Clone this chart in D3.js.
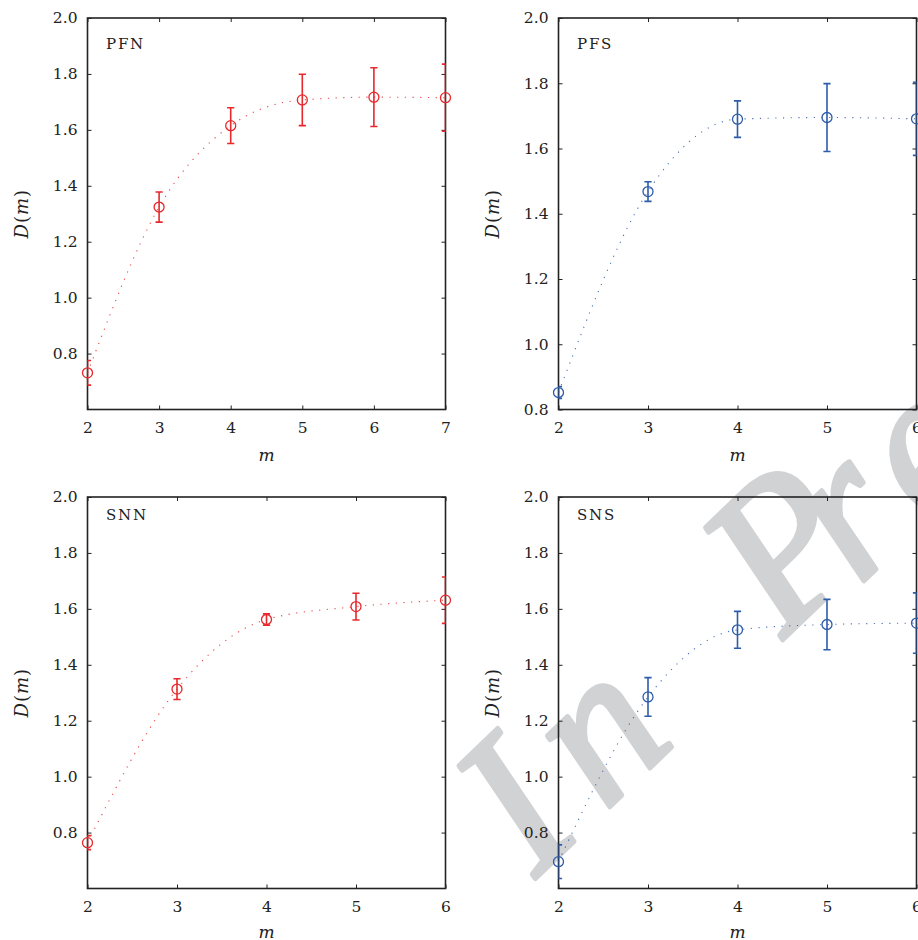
<!DOCTYPE html>
<html>
<head>
<meta charset="utf-8">
<script src="https://cdn.jsdelivr.net/npm/d3@7"></script>
<style>
  html, body { margin: 0; padding: 0; background: #fff; }
  svg { display: block; }
</style>
</head>
<body>
<svg id="fig" width="918" height="940"></svg>
<script>
// Embedding dimension m for each panel
const mPFN = [2, 3, 4, 5, 6, 7];
const mPFS = [2, 3, 4, 5, 6];
const mSNN = [2, 3, 4, 5, 6];
const mSNS = [2, 3, 4, 5, 6];

// Correlation dimension D(m) and its standard deviation
const dPFN   = [0.731, 1.324, 1.615, 1.707, 1.717, 1.715];
const errPFN = [0.044, 0.054, 0.064, 0.092, 0.105, 0.120];

const dPFS   = [0.852, 1.468, 1.690, 1.695, 1.691];
const errPFS = [0.018, 0.030, 0.056, 0.104, 0.112];

const dSNN   = [0.764, 1.313, 1.562, 1.608, 1.631];
const errSNN = [0.025, 0.037, 0.020, 0.048, 0.083];

const dSNS   = [0.696, 1.285, 1.525, 1.544, 1.549];
const errSNS = [0.060, 0.069, 0.066, 0.090, 0.108];

const panelNames = ["PFN", "PFS", "SNN", "SNS"];
const yTickValues = [0.8, 1.0, 1.2, 1.4, 1.6, 1.8, 2.0];
const yDomains = [[0.6, 2.0], [0.8, 2.0], [0.6, 2.0], [0.6, 2.0]];

const RED = "#e8282b";
const BLUE = "#2c5caa";
const INK = "#222";
const SERIF = "DejaVu Serif, serif";

const panels = [
  { name: panelNames[0], m: mPFN, d: dPFN, err: errPFN, color: RED,  yDomain: yDomains[0], col: 0, row: 0 },
  { name: panelNames[1], m: mPFS, d: dPFS, err: errPFS, color: BLUE, yDomain: yDomains[1], col: 1, row: 0 },
  { name: panelNames[2], m: mSNN, d: dSNN, err: errSNN, color: RED,  yDomain: yDomains[2], col: 0, row: 1 },
  { name: panelNames[3], m: mSNS, d: dSNS, err: errSNS, color: BLUE, yDomain: yDomains[3], col: 1, row: 1 }
];

// grid layout
const colLeft = [87.5, 558.5];
const rowTop = [18, 497];
const W = 358, H = 391.5;
const labelDy = [31, 23];
const xTitleDy = [51, 49];

const svg = d3.select("#fig");

// "In Press" stamp sitting behind the plots
svg.append("text")
  .attr("transform", "translate(536,878) rotate(-44)")
  .attr("font-family", "Liberation Serif, serif")
  .attr("font-style", "italic")
  .attr("font-size", 205)
  .attr("dx", "0 27 0 95 -35 22 0 0")
  .attr("dy", "0 0 0 0 14 6 0 0")
  .attr("fill", "#d1d2d4")
  .attr("stroke", "#d1d2d4")
  .attr("stroke-width", 5)
  .attr("stroke-linejoin", "round")
  .text("In Press");

function styleTicks(sel) {
  sel.select(".domain").remove();
  sel.attr("font-family", SERIF).attr("font-size", 15.5);
  sel.selectAll(".tick line").attr("stroke", INK);
  sel.selectAll(".tick text").attr("fill", INK);
}

panels.forEach((p, i) => {
  const left = colLeft[p.col], top = rowTop[p.row];
  const g = svg.append("g").attr("transform", `translate(${left},${top})`);

  const x = d3.scaleLinear().domain(d3.extent(p.m)).range([0, W]);
  const y = d3.scaleLinear().domain(p.yDomain).range([H, 0]);

  const clipId = "clip" + i;
  g.append("clipPath").attr("id", clipId)
    .append("rect").attr("x", 0).attr("y", 0).attr("width", W).attr("height", H);

  // axes with inward ticks on all four sides
  g.append("g").attr("transform", `translate(0,${H})`)
    .call(d3.axisBottom(x).tickValues(p.m).tickFormat(d3.format("d")).tickSize(-4).tickPadding(12))
    .call(styleTicks);
  g.append("g")
    .call(d3.axisTop(x).tickValues(p.m).tickFormat("").tickSize(-4))
    .call(styleTicks);
  g.append("g")
    .call(d3.axisLeft(y).tickValues(yTickValues).tickFormat(d3.format(".1f")).tickSize(-4).tickPadding(10))
    .call(styleTicks);
  g.append("g").attr("transform", `translate(${W},0)`)
    .call(d3.axisRight(y).tickValues(yTickValues).tickFormat("").tickSize(-4))
    .call(styleTicks);

  // frame
  g.append("rect")
    .attr("x", 0).attr("y", 0).attr("width", W).attr("height", H)
    .attr("fill", "none").attr("stroke", INK).attr("stroke-width", 1.6);

  const pts = p.m.map((m, k) => ({ m, d: p.d[k], e: p.err[k] }));

  const plot = g.append("g").attr("clip-path", `url(#${clipId})`);

  // dotted guide through the means
  plot.append("path")
    .datum(pts)
    .attr("fill", "none")
    .attr("stroke", p.color)
    .attr("stroke-width", 1.1)
    .attr("stroke-opacity", 0.85)
    .attr("stroke-dasharray", "1.2 6.5")
    .attr("d", d3.line().x(d => x(d.m)).y(d => y(d.d)).curve(d3.curveMonotoneX));

  // error bars
  const eb = plot.selectAll("g.eb").data(pts).enter().append("g")
    .attr("stroke", p.color).attr("stroke-width", 1.6).attr("fill", "none");
  eb.append("line")
    .attr("x1", d => x(d.m)).attr("x2", d => x(d.m))
    .attr("y1", d => y(d.d - d.e)).attr("y2", d => y(d.d + d.e));
  eb.append("line")
    .attr("x1", d => x(d.m) - 3.6).attr("x2", d => x(d.m) + 3.6)
    .attr("y1", d => y(d.d + d.e)).attr("y2", d => y(d.d + d.e));
  eb.append("line")
    .attr("x1", d => x(d.m) - 3.6).attr("x2", d => x(d.m) + 3.6)
    .attr("y1", d => y(d.d - d.e)).attr("y2", d => y(d.d - d.e));

  // open circle markers
  g.selectAll("circle.pt").data(pts).enter().append("circle")
    .attr("cx", d => x(d.m)).attr("cy", d => y(d.d)).attr("r", 5)
    .attr("fill", "none").attr("stroke", p.color).attr("stroke-width", 1.3);

  // panel name
  g.append("text")
    .attr("x", 18.5).attr("y", labelDy[p.row])
    .attr("font-family", SERIF).attr("font-size", 15)
    .attr("letter-spacing", 1.8)
    .attr("fill", INK)
    .text(p.name);

  // x axis title
  g.append("text")
    .attr("x", W / 2).attr("y", H + xTitleDy[p.row])
    .attr("text-anchor", "middle")
    .attr("font-family", SERIF).attr("font-style", "italic").attr("font-size", 17)
    .attr("fill", INK)
    .text("m");

  // y axis title D(m)
  const yt = g.append("text")
    .attr("transform", `translate(-60,${H / 2}) rotate(-90)`)
    .attr("text-anchor", "middle")
    .attr("font-family", SERIF).attr("font-size", 18)
    .attr("letter-spacing", 1)
    .attr("fill", INK);
  yt.append("tspan").attr("font-style", "italic").text("D");
  yt.append("tspan").text("(");
  yt.append("tspan").attr("font-style", "italic").text("m");
  yt.append("tspan").text(")");
});
</script>
</body>
</html>
